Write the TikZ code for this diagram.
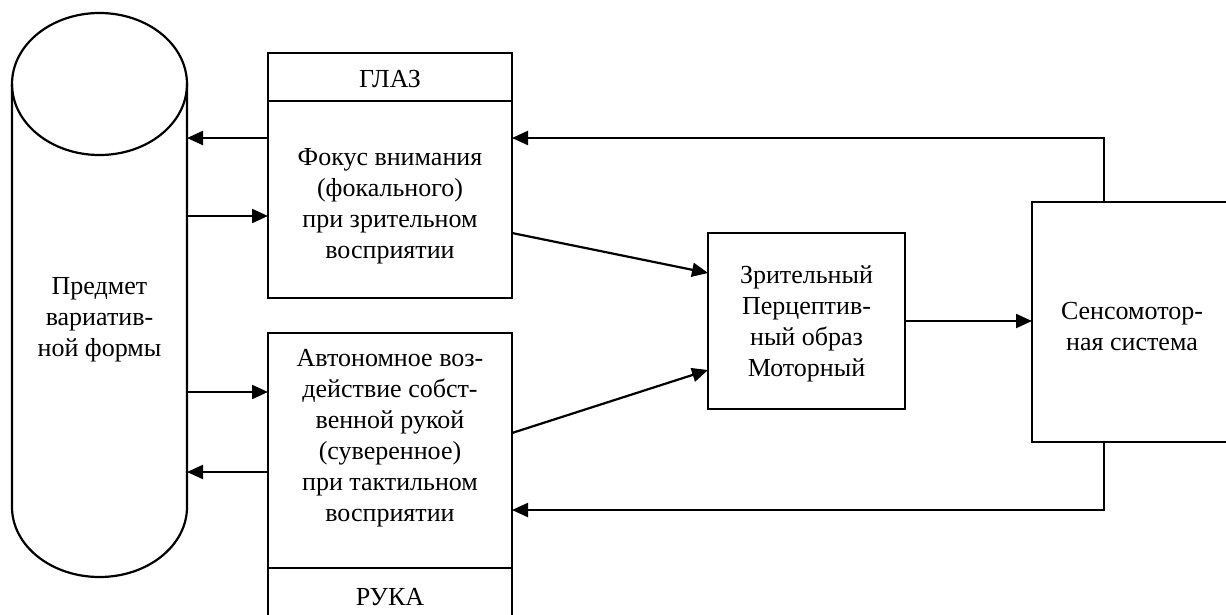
\documentclass[tikz,border=0pt]{standalone}
\usepackage{fontspec}
\setmainfont{Liberation Serif}
\usetikzlibrary{arrows.meta}
\begin{document}
\begin{tikzpicture}[x=1pt,y=-1pt,
  line width=2.2pt,
  every node/.style={font=\fontsize{26}{31}\selectfont, inner sep=0pt, outer sep=0pt},
  boxn/.style={draw, rectangle},
  txt/.style={align=center},
  arr/.style={-{Triangle[length=16pt,width=14pt]}}]
\useasboundingbox (0,0) rectangle (1226,614);
% cylinder
\node (obj) at (99.5,295) [minimum width=175pt, minimum height=564pt] {};
\draw (12,84) -- (12,507) arc (180:360:87.5pt and 70pt) -- (187,84);
\draw (99.5,84) ellipse (87.5pt and 71pt);
\node[txt] (objt) at (99.5,320) {Предмет\\вариатив-\\ной формы};
% eye
\node[boxn, minimum width=244pt, minimum height=48pt] (glazh) at (390,77) {};
\node (glazht) at (390,79) {ГЛАЗ};
\node[boxn, minimum width=244pt, minimum height=197pt] (glazb) at (390,199.5) {};
\node[txt] (glazt) at (390,206) {Фокус внимания\\(фокального)\\при зрительном\\восприятии};
% hand
\node[boxn, minimum width=244pt, minimum height=235pt] (hand) at (390,450.5) {};
\node[txt] (handt) at (390,438) {Автономное воз-\\действие собст-\\венной рукой\\(суверенное)\\при тактильном\\восприятии};
\node[boxn, minimum width=244pt, minimum height=48pt] (rukah) at (390,592) {};
\node (rukaht) at (390,597) {РУКА};
% middle
\node[boxn, minimum width=197pt, minimum height=176pt] (mid) at (806.5,321) {};
\node[txt] (midt) at (806.5,324) {Зрительный\\Перцептив-\\ный образ\\Моторный};
% sensomotor
\node[boxn, minimum width=200pt, minimum height=240pt] (sens) at (1132,322) {};
\node[txt] (senst) at (1132,327) {Сенсомотор-\\ная система};
% levels
\coordinate (y1) at (0,138);
\coordinate (y2) at (0,216);
\coordinate (y3) at (0,392);
\coordinate (y4) at (0,472);
\coordinate (y5) at (0,233);
\coordinate (y6) at (0,273);
\coordinate (y7) at (0,433);
\coordinate (y8) at (0,370);
\coordinate (y9) at (0,510);
\coordinate (xf) at (1104,0);
% arrows
\draw[arr] (glazb.west |- y1) -- (obj.east |- y1);
\draw[arr] (obj.east |- y2) -- (glazb.west |- y2);
\draw[arr] (obj.east |- y3) -- (hand.west |- y3);
\draw[arr] (hand.west |- y4) -- (obj.east |- y4);
\draw[arr] (glazb.east |- y5) -- (mid.west |- y6);
\draw[arr] (hand.east |- y7) -- (mid.west |- y8);
\draw[arr] (mid.east) -- (mid.east -| sens.west);
\draw[arr] (sens.north -| xf) -- (xf |- y1) -- (glazb.east |- y1);
\draw[arr] (sens.south -| xf) -- (xf |- y9) -- (hand.east |- y9);
\end{tikzpicture}
\end{document}
